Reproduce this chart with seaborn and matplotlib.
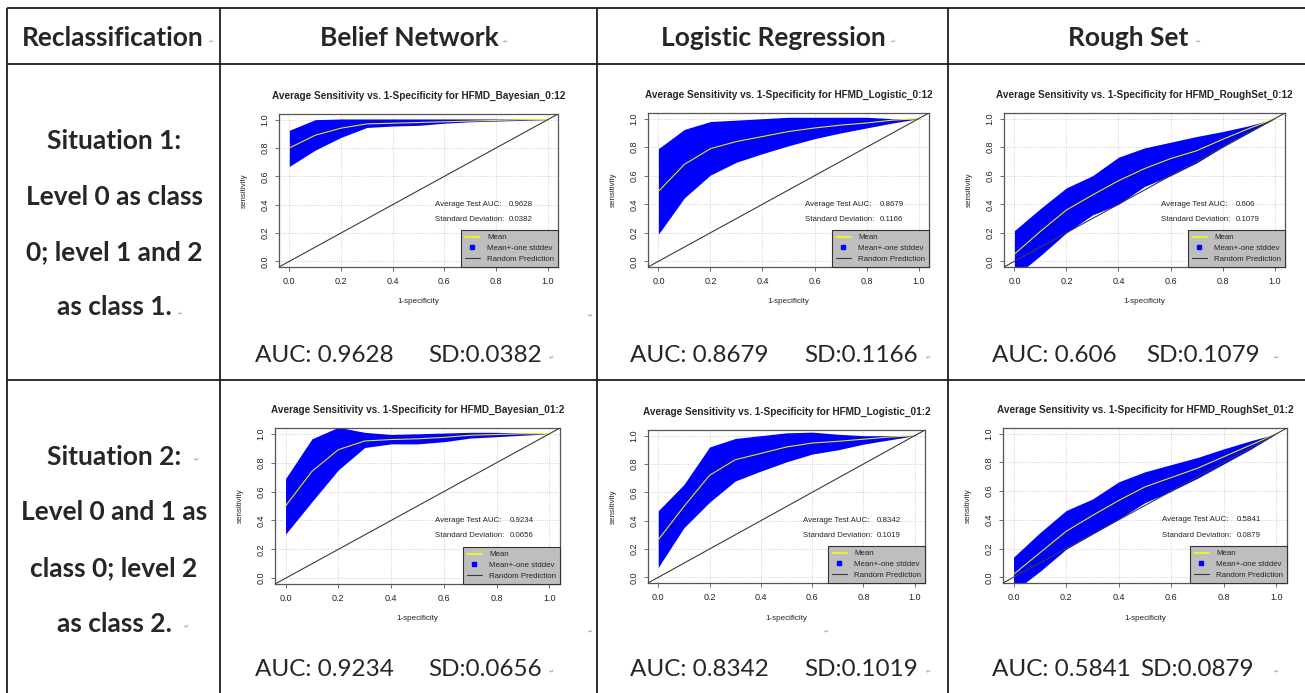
import matplotlib
matplotlib.use("Agg")
import matplotlib.pyplot as plt
from matplotlib.lines import Line2D
import seaborn as sns

# canvas size in pixels (figure drawn at dpi 100)
W, H = 1305, 693

# 1-specificity grid shared by all ROC curves
fpr = [0.0, 0.1, 0.2, 0.3, 0.4, 0.5, 0.6, 0.7, 0.8, 0.9, 1.0]

# Situation 1 (0:12)
bayes_012_mean = [0.80, 0.89, 0.94, 0.97, 0.975, 0.98, 0.985, 0.99, 0.995, 1.0, 1.0]
bayes_012_upper = [0.925, 1.0, 1.005, 1.005, 1.005, 1.005, 1.005, 1.005, 1.005, 1.005, 1.0]
bayes_012_lower = [0.67, 0.785, 0.875, 0.945, 0.955, 0.96, 0.975, 0.985, 0.99, 0.995, 1.0]

logit_012_mean = [0.49, 0.68, 0.79, 0.84, 0.875, 0.91, 0.935, 0.955, 0.97, 0.99, 1.0]
logit_012_upper = [0.79, 0.925, 0.98, 0.99, 1.0, 1.01, 1.01, 1.01, 1.01, 1.0, 1.0]
logit_012_lower = [0.19, 0.445, 0.605, 0.695, 0.755, 0.81, 0.86, 0.90, 0.935, 0.97, 1.0]

rough_012_mean = [0.05, 0.21, 0.36, 0.465, 0.565, 0.65, 0.72, 0.775, 0.855, 0.93, 1.0]
rough_012_upper = [0.215, 0.37, 0.515, 0.60, 0.73, 0.795, 0.835, 0.875, 0.91, 0.95, 1.0]
rough_012_lower = [-0.11, 0.04, 0.20, 0.325, 0.40, 0.525, 0.60, 0.69, 0.80, 0.90, 1.0]

# Situation 2 (01:2)
bayes_012b_mean = [0.50, 0.74, 0.89, 0.95, 0.96, 0.965, 0.975, 0.99, 0.995, 1.0, 1.0]
bayes_012b_upper = [0.69, 0.965, 1.045, 1.01, 0.995, 1.0, 1.005, 1.01, 1.01, 1.005, 1.0]
bayes_012b_lower = [0.305, 0.53, 0.75, 0.905, 0.93, 0.93, 0.945, 0.97, 0.98, 0.99, 1.0]

logit_012b_mean = [0.265, 0.50, 0.72, 0.83, 0.875, 0.92, 0.948, 0.96, 0.975, 0.99, 1.0]
logit_012b_upper = [0.47, 0.655, 0.92, 0.98, 1.0, 1.02, 1.025, 1.01, 1.0, 1.0, 1.0]
logit_012b_lower = [0.07, 0.35, 0.53, 0.68, 0.75, 0.815, 0.87, 0.90, 0.94, 0.97, 1.0]

rough_012b_mean = [0.02, 0.17, 0.32, 0.43, 0.535, 0.63, 0.695, 0.76, 0.84, 0.92, 1.0]
rough_012b_upper = [0.14, 0.31, 0.465, 0.545, 0.665, 0.735, 0.785, 0.835, 0.895, 0.95, 1.0]
rough_012b_lower = [-0.10, 0.04, 0.195, 0.30, 0.405, 0.52, 0.60, 0.69, 0.79, 0.89, 1.0]

col_headers = ["Reclassification", "Belief Network", "Logistic Regression", "Rough Set"]
row1_lines = ["Situation 1:", "Level 0 as class", "0; level 1 and 2", "as class 1."]
row2_lines = ["Situation 2:", "Level 0 and 1 as", "class 0; level 2", "as class 2."]

titles_s1 = ["HFMD_Bayesian_0:12", "HFMD_Logistic_0:12", "HFMD_RoughSet_0:12"]
titles_s2 = ["HFMD_Bayesian_01:2", "HFMD_Logistic_01:2", "HFMD_RoughSet_01:2"]
auc_s1 = ["0.9628", "0.8679", "0.606"]
sd_s1 = ["0.0382", "0.1166", "0.1079"]
auc_s2 = ["0.9234", "0.8342", "0.5841"]
sd_s2 = ["0.0656", "0.1019", "0.0879"]

sns.set_style("white")
plt.rcParams["font.family"] = ["Liberation Sans", "DejaVu Sans"]

YELLOW = "#E8E800"
BLUE = "#0000FF"
DARK = "#3A3A3A"

fig = plt.figure(figsize=(W / 100, H / 100), dpi=100)

# background axes in pixel units for the table
bg = fig.add_axes([0, 0, 1, 1])
bg.set_xlim(0, W)
bg.set_ylim(H, 0)
bg.axis("off")

tline = dict(color="#1E1E1E", lw=1.3)
for y in [8, 64, 380]:
    bg.hlines(y, 7, W, **tline)
for x in [7, 220, 597, 948]:
    bg.vlines(x, 8, H, **tline)

table_font = ["Lato", "DejaVu Sans"]
head_x = [113, 409, 773, 1128]
for x, txt in zip(head_x, col_headers):
    bg.text(x, 38, txt, ha="center", va="center", fontsize=19,
            fontweight="bold", family=table_font)

for y, txt in zip([141, 197, 252, 307], row1_lines):
    bg.text(114, y, txt, ha="center", va="center", fontsize=19,
            fontweight="bold", family=table_font)
for y, txt in zip([457, 512, 568, 624], row2_lines):
    bg.text(114, y, txt, ha="center", va="center", fontsize=19,
            fontweight="bold", family=table_font)

auc_x = [255, 630, 992]
sd_x1 = [428, 804, 1146]
sd_x2 = [428, 804, 1140]
for i in range(3):
    bg.text(auc_x[i], 355, "AUC: " + auc_s1[i], ha="left", va="center",
            fontsize=17.5, family=table_font)
    bg.text(sd_x1[i], 355, "SD:" + sd_s1[i], ha="left", va="center",
            fontsize=17.5, family=table_font)
    bg.text(auc_x[i], 669, "AUC: " + auc_s2[i], ha="left", va="center",
            fontsize=17.5, family=table_font)
    bg.text(sd_x2[i], 669, "SD:" + sd_s2[i], ha="left", va="center",
            fontsize=17.5, family=table_font)

# word paragraph marks
marks = [(211, 42), (505, 42), (893, 42), (1198, 42), (180, 314), (590, 316),
         (551, 358), (928, 358), (1276, 358), (196, 460), (186, 627),
         (590, 632), (826, 632), (551, 672), (928, 672), (1276, 672)]
for mx, my in marks:
    bg.text(mx, my, "\u21b5", fontsize=4.5, color="#9A9A9A",
            ha="center", va="center", family=["DejaVu Sans"])


def px_axes(box):
    l, t, r, b = box
    return fig.add_axes([l / W, 1 - b / H, (r - l) / W, (b - t) / H])


def draw_roc(ax, mean, upper, lower, name, auc, sd):
    ax.set_facecolor("white")
    ax.fill_between(fpr, lower, upper, color=BLUE, linewidth=0, zorder=2)
    sns.lineplot(x=fpr, y=mean, ax=ax, color=YELLOW, linewidth=0.8, zorder=3)
    ax.axline((0, 0), slope=1, color=DARK, lw=0.8, zorder=3)
    ax.set_xlim(-0.04, 1.04)
    ax.set_ylim(-0.04, 1.04)
    ticks = [0.0, 0.2, 0.4, 0.6, 0.8, 1.0]
    ax.set_xticks(ticks)
    ax.set_yticks(ticks)
    ax.set_xticklabels([f"{t:.1f}" for t in ticks])
    ax.set_yticklabels([f"{t:.1f}" for t in ticks], rotation=90, va="center")
    ax.grid(True, ls=":", color="#C4C4C4", lw=0.6)
    ax.set_axisbelow(True)
    for sp in ax.spines.values():
        sp.set_color("#555555")
        sp.set_linewidth(0.9)
        sp.set_visible(True)
    ax.tick_params(direction="out", length=3, width=0.6, color="#555555",
                   labelsize=6.5, pad=4, labelcolor="#222222",
                   bottom=True, left=True)
    ax.set_title("Average Sensitivity vs. 1-Specificity for " + name,
                 fontsize=7.2, fontweight="bold", pad=11)
    ax.set_xlabel("1-specificity", fontsize=5.8, color="#222222")
    ax.set_ylabel("sensitivity", fontsize=5.8, color="#222222")
    h = ax.get_position().height * H
    w = ax.get_position().width * W
    ax.xaxis.set_label_coords(0.5, -35 / h)
    ax.xaxis.label.set_va("center")
    ax.yaxis.set_label_coords(-35 / w, 0.5)
    ax.yaxis.label.set_va("center")
    ax.text(0.565, 0.40, "Average Test AUC:", fontsize=5.7, va="center", zorder=4)
    ax.text(0.85, 0.40, auc, fontsize=5.7, va="center", zorder=4)
    ax.text(0.565, 0.293, "Standard Deviation:", fontsize=5.7, va="center", zorder=4)
    ax.text(0.85, 0.293, sd, fontsize=5.7, va="center", zorder=4)
    handles = [Line2D([], [], color="#FFFF00", lw=1.1),
               Line2D([], [], ls="none", marker="s", color=BLUE, ms=3.2),
               Line2D([], [], color=DARK, lw=0.8)]
    leg = ax.legend(handles, ["Mean", "Mean+-one stddev", "Random Prediction"],
                    loc="lower right", borderaxespad=0, frameon=True,
                    facecolor="#BEBEBE", edgecolor="#333333", framealpha=1,
                    fancybox=False, fontsize=5.7, handlelength=1.9,
                    handletextpad=0.9, borderpad=0.5, labelspacing=0.42)
    leg.get_frame().set_linewidth(0.8)
    leg.set_zorder(5)


boxes_s1 = [(279, 114, 558, 267), (648, 113, 929, 267), (1004, 113, 1285, 267)]
boxes_s2 = [(275, 428, 560, 584), (648, 430, 925, 583), (1003, 428, 1287, 583)]

series_s1 = [(bayes_012_mean, bayes_012_upper, bayes_012_lower),
             (logit_012_mean, logit_012_upper, logit_012_lower),
             (rough_012_mean, rough_012_upper, rough_012_lower)]
series_s2 = [(bayes_012b_mean, bayes_012b_upper, bayes_012b_lower),
             (logit_012b_mean, logit_012b_upper, logit_012b_lower),
             (rough_012b_mean, rough_012b_upper, rough_012b_lower)]

for i in range(3):
    ax = px_axes(boxes_s1[i])
    m, u, lo = series_s1[i]
    draw_roc(ax, m, u, lo, titles_s1[i], auc_s1[i], sd_s1[i])
    ax = px_axes(boxes_s2[i])
    m, u, lo = series_s2[i]
    draw_roc(ax, m, u, lo, titles_s2[i], auc_s2[i], sd_s2[i])

fig.savefig("out.png", dpi=100)
